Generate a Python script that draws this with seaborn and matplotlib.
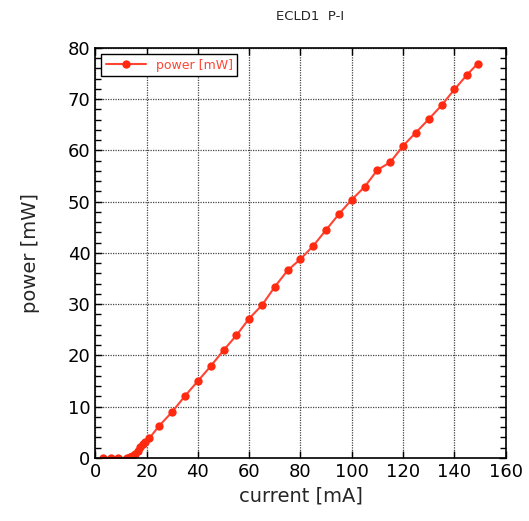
import numpy as np
import pandas as pd
import matplotlib
matplotlib.use("Agg")
import matplotlib.pyplot as plt
import seaborn as sns
from matplotlib.ticker import MultipleLocator

# P-I curve of ECLD1
current = [3, 6, 9, 12.5, 13.5, 14.5, 15.5, 16.5, 17.5, 18.5, 19.5, 21,
           25, 30, 35, 40, 45, 50, 55, 60, 65, 70, 75, 80, 85, 90, 95,
           100, 105, 110, 115, 120, 125, 130, 135, 140, 145, 149]
power = [0, 0, 0, 0.05, 0.15, 0.35, 0.8, 1.4, 2.1, 2.7, 3.1, 3.8,
         6.3, 9.0, 12.1, 15.0, 17.9, 21.0, 23.9, 27.2, 29.8, 33.4, 36.6,
         38.8, 41.4, 44.5, 47.6, 50.4, 52.9, 56.2, 57.7, 60.9, 63.5, 66.1,
         68.8, 71.9, 74.8, 76.9]

df = pd.DataFrame({"current [mA]": current, "power [mW]": power})

sns.set_style("ticks")
plt.rcParams["font.family"] = ["DejaVu Sans"]

fig = plt.figure(figsize=(5.29, 5.21), dpi=100)
ax = fig.add_axes([0.180, 0.121, 0.776, 0.787])

sns.lineplot(data=df, x="current [mA]", y="power [mW]", ax=ax,
             color="#ff4433", marker="o", markersize=6, linewidth=1.5,
             markeredgewidth=0, markerfacecolor="#ff2a10", label="power [mW]")

ax.set_xlim(0, 160)
ax.set_ylim(0, 80)
ax.xaxis.set_major_locator(MultipleLocator(20))
ax.yaxis.set_major_locator(MultipleLocator(10))
ax.yaxis.set_minor_locator(MultipleLocator(2))

ax.grid(True, which="major", color="#444444", linestyle=(0, (1, 1)), linewidth=0.9)
ax.tick_params(which="both", direction="in", top=True, right=True,
               length=5, width=1, labelsize=13, colors="black")
ax.tick_params(which="minor", length=4)
for s in ax.spines.values():
    s.set_color("black")
    s.set_linewidth(1.2)

ax.set_xlabel("current [mA]", fontsize=14)
ax.set_ylabel("power [mW]", fontsize=14, labelpad=20)

fig.text(310 / 529, 1 - 17 / 521, "ECLD1  P-I", ha="center", va="center",
         fontsize=9.5, fontweight="medium")

leg = ax.legend(loc="upper left", fontsize=9, frameon=True, fancybox=False,
                handlelength=3.2, borderaxespad=0.5, borderpad=0.35,
                labelcolor="#ff4433")
leg.get_frame().set_edgecolor("black")
leg.get_frame().set_linewidth(1.0)
leg.get_frame().set_alpha(1)

plt.savefig("out.png", dpi=100)
